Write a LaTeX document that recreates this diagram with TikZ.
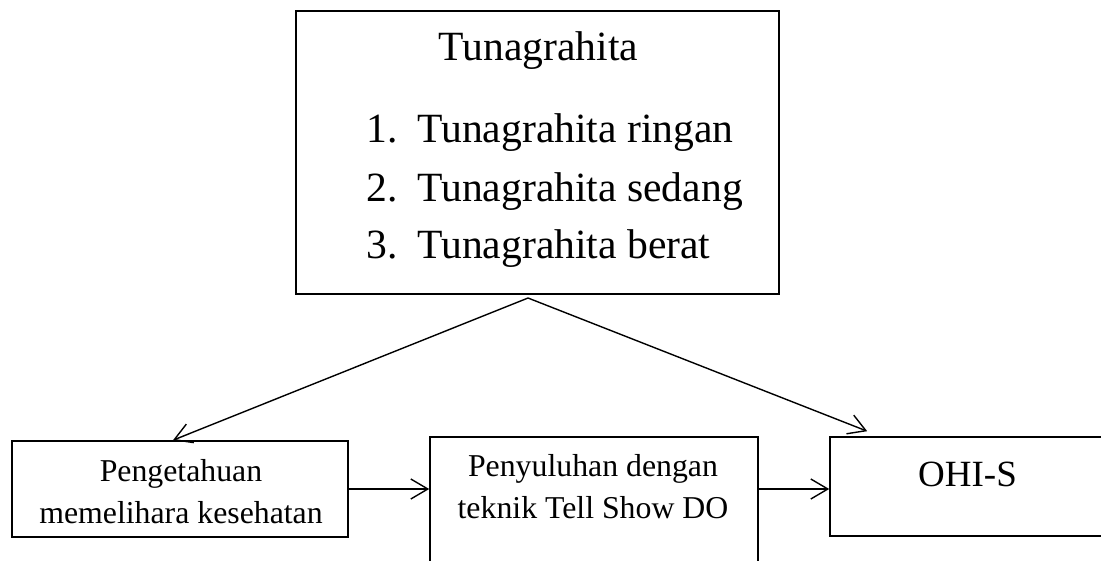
\documentclass[tikz,border=0pt]{standalone}
\usepackage{fontspec}
\setmainfont{Liberation Serif}
\usetikzlibrary{arrows.meta,calc,positioning}
\tikzset{box/.style={draw, line width=0.8pt, inner sep=0pt},
  flow/.style={-{Straight Barb[length=8.5pt,width=10pt]}, line width=0.7pt},
  bigtext/.style={inner sep=0pt, font=\fontsize{20.8pt}{25pt}\selectfont},
  smalltext/.style={inner sep=0pt, font=\fontsize{15.9pt}{20.75pt}\selectfont, align=center}
}

\begin{document}
\begin{tikzpicture}[x=0.5pt,y=-0.5pt]
    \useasboundingbox (0,0) rectangle (1101,561);
    \clip (0,0) rectangle (1101,561);
    % boxes
    \node[box, minimum width=241.5pt, minimum height=141.5pt] (tuna) at (537.5,152.5) {};
    \node[box, minimum width=168pt, minimum height=48pt] (know) at (180,489) {};
    \node[box, minimum width=164pt, minimum height=91.5pt] (tsd) at (594,528.5) {};
    \node[box, minimum width=145pt, minimum height=49.5pt] (ohis) at (975,486.5) {};
    % texts
    \node[bigtext, anchor=base] (title) at (538.5,61) {Tunagrahita};
    \foreach \i/\yy/\kind in {1/143/ringan, 2/202/sedang, 3/258/berat} {
        \node[bigtext, anchor=base west] (num\i) at (366,\yy) {\i.};
        \node[bigtext, anchor=base west] (item\i) at (417,\yy) {Tunagrahita \kind};
    }
    \node[smalltext, anchor=base] (knowtxt) at (181,523) {Pengetahuan\\memelihara kesehatan};
    \node[smalltext, anchor=base] (tsdtxt) at (593,518) {Penyuluhan dengan\\teknik Tell Show DO};
    \node[inner sep=0pt, font=\fontsize{18.5pt}{22pt}\selectfont, anchor=base] (ohistxt) at (967.5,486) {OHI-S};
    % arrows
    \coordinate (fork) at (528,298);
    \draw[flow] (fork) -- ([xshift=-3.5pt]know.north);
    \draw[flow] (fork) -- ([xshift=19pt,yshift=2.5pt]ohis.north west);
    \draw[flow] (know.east) -- (know.east -| tsd.west);
    \draw[flow] (know.east -| tsd.east) -- (know.east -| ohis.west);
\end{tikzpicture}
\end{document}
